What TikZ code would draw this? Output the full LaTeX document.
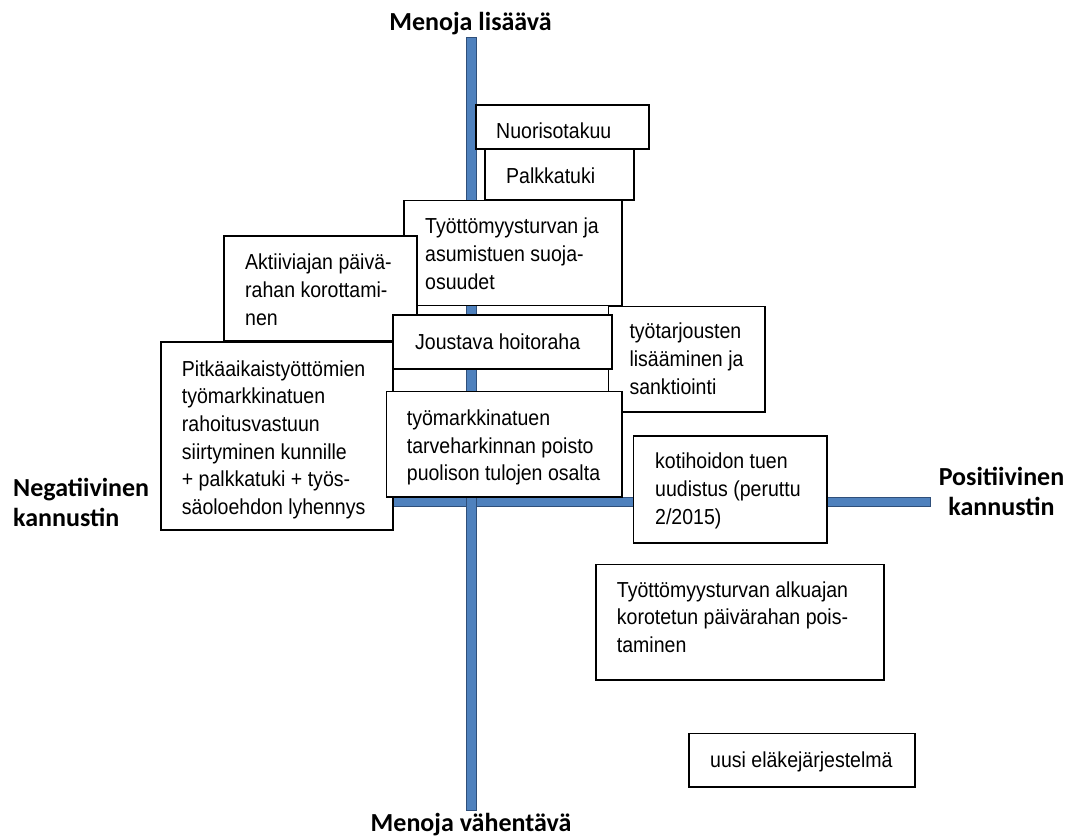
\documentclass[tikz,border=0pt]{standalone}
\usepackage{fontspec}
\newfontfamily\bodyfont[FakeStretch=0.9]{Liberation Sans}
\newfontfamily\labelfont{Carlito}
\definecolor{axisblue}{HTML}{4F81BD}
\definecolor{axisedge}{HTML}{2F4F7A}
\begin{document}
\begin{tikzpicture}[x=1pt,y=-1pt,
  box/.style={draw=black, line width=1.6pt, fill=white, rectangle, inner sep=0pt},
  txt/.style={anchor=north west, inner sep=0pt, align=left, font=\bodyfont\fontsize{21.7}{27.6}\selectfont},
  lbl/.style={inner sep=0pt, font=\labelfont\bfseries\fontsize{26}{30}\selectfont},
  bar/.style={fill=axisblue, draw=axisedge, line width=0.8pt}]
\useasboundingbox (0,0) rectangle (1073,838);
\fill[white] (0,0) rectangle (1073,838);
% axes
\draw[bar] (200,497.5) rectangle (930,506);
\draw[bar] (466.5,37.7) rectangle (476,810);
% labels
\node[lbl, anchor=base] (top) at (470.5,30.7) {Menoja lisäävä};
\node[lbl, anchor=base] (bottom) at (471,831) {Menoja vähentävä};
\node[lbl, anchor=north west, align=left] (neg) at (13,475) {\strut Negatiivinen\\kannustin};
\node[lbl, anchor=north, align=center] (pos) at (1001.5,464.7) {\strut Positiivinen\\kannustin};
% boxes
\node[box, minimum width=173pt, minimum height=44pt] (nuor) at (562.5,127) {};
\node[txt] (nuort) at (496,119.4) {\strut Nuorisotakuu};
\node[box, minimum width=149pt, minimum height=51pt] (palk) at (559.5,174.5) {};
\node[txt] (palkt) at (506,163.8) {\strut Palkkatuki};
\node[box, minimum width=218pt, minimum height=105pt] (tyott) at (513,253) {};
\node[txt] (tyottt) at (425,214.4) {\strut Työttömyysturvan ja\\asumistuen suoja-\\osuudet};
\node[box, minimum width=193pt, minimum height=105pt] (akt) at (320.5,288.5) {};
\node[txt] (aktt) at (245,250.4) {\strut Aktiiviajan päivä-\\rahan korottami-\\nen};
\node[box, minimum width=156.5pt, minimum height=105.2pt] (tarj) at (686.75,359.1) {};
\node[txt] (tarjt) at (629.3,319.4) {\strut työtarjousten\\lisääminen ja\\sanktiointi};
\node[box, minimum width=219pt, minimum height=54pt] (jous) at (502.5,342) {};
\node[txt] (joust) at (415,330.4) {\strut Joustava hoitoraha};
\node[box, minimum width=232pt, minimum height=188pt] (pitk) at (277,436) {};
\node[txt] (pitkt) at (181.7,356.8) {\strut Pitkäaikaistyöttömien\\työmarkkinatuen\\rahoitusvastuun\\siirtyminen kunnille\\+ palkkatuki + työs-\\säoloehdon lyhennys};
\node[box, minimum width=235.5pt, minimum height=105.2pt] (tmt) at (504.25,444.1) {};
\node[txt] (tmtt) at (406.7,406.1) {\strut työmarkkinatuen\\tarveharkinnan poisto\\puolison tulojen osalta};
\node[box, minimum width=193.4pt, minimum height=107.3pt] (koti) at (730,489.35) {};
\node[txt] (kotit) at (655,449.4) {\strut kotihoidon tuen\\uudistus (peruttu\\2/2015)};
\node[box, minimum width=288.3pt, minimum height=115.7pt] (alku) at (739.85,622.15) {};
\node[txt] (alkut) at (616.7,577.8) {\strut Työttömyysturvan alkuajan\\korotetun päivärahan pois-\\taminen};
\node[box, minimum width=226pt, minimum height=53.4pt] (uusi) at (802,760) {};
\node[txt] (uusit) at (710,747.8) {\strut uusi eläkejärjestelmä};
\end{tikzpicture}
\end{document}
